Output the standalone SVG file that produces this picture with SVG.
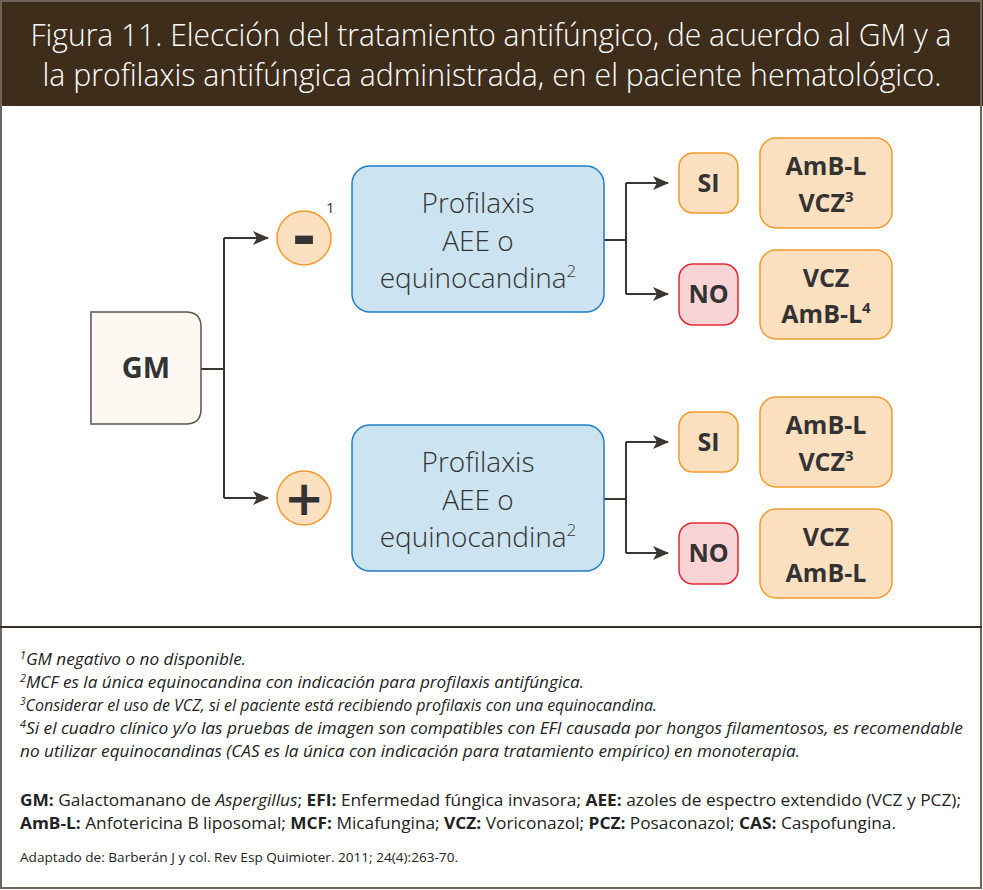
<svg xmlns="http://www.w3.org/2000/svg" width="983" height="890" viewBox="0 0 983 890">
<defs>
<marker id="arr" markerWidth="16" markerHeight="14" refX="15" refY="7" orient="auto" markerUnits="userSpaceOnUse">
<path d="M0,0 L16,7 L0,14 L4,7 Z" fill="#3d3530"/>
</marker>
</defs>
<style>
.title{font-family:"Open Sans",sans-serif;font-weight:300;font-size:31px;fill:#ffffff}
.conn{fill:none;stroke:#3d3530;stroke-width:2}
.gm{fill:#fdf8f2;stroke:#5e544c;stroke-width:1.5}
.prof{fill:#cce3f1;stroke:#1f7dc2;stroke-width:1.5}
.or{fill:#fde0c0;stroke:#f4992c;stroke-width:1.5}
.no{fill:#f9d3d5;stroke:#e02a36;stroke-width:1.5}
.bt{font-family:"Open Sans",sans-serif;font-weight:700;fill:#333333;text-anchor:middle}
.lt{font-family:"Open Sans",sans-serif;font-weight:300;font-size:28px;fill:#333333;text-anchor:middle}
.fn{font-family:"Open Sans",sans-serif;font-style:italic;font-size:16px;fill:#222222}
.gl{font-family:"Open Sans",sans-serif;font-size:16px;fill:#222222}
.gl .b{font-weight:700}
.src{font-family:"Open Sans",sans-serif;font-size:12px;fill:#222222}
</style>
<rect x="0" y="0" width="983" height="890" fill="#ffffff"/>
<rect x="0" y="0" width="983" height="106" fill="#3f2d1b"/>
<rect x="1" y="1" width="980" height="887" fill="none" stroke="#6e6259" stroke-width="2"/>
<line x1="0" y1="627" x2="982" y2="627" stroke="#3a2e25" stroke-width="2"/>
<text class="title" x="491" y="46" text-anchor="middle" textLength="921" lengthAdjust="spacingAndGlyphs">Figura 11. Elección del tratamiento antifúngico, de acuerdo al GM y a</text>
<text class="title" x="492" y="86" text-anchor="middle" textLength="899" lengthAdjust="spacingAndGlyphs">la profilaxis antifúngica administrada, en el paciente hematológico.</text>

<g id="connectors">
<path class="conn" d="M201,369 H224 M224,238 V498"/>
<path class="conn" d="M224,238 H268" marker-end="url(#arr)"/>
<path class="conn" d="M224,498 H268" marker-end="url(#arr)"/>
<path class="conn" d="M604,240 H626 M626,183 V294"/>
<path class="conn" d="M626,183 H668" marker-end="url(#arr)"/>
<path class="conn" d="M626,294 H668" marker-end="url(#arr)"/>
<path class="conn" d="M604,499 H626 M626,442 V553"/>
<path class="conn" d="M626,442 H668" marker-end="url(#arr)"/>
<path class="conn" d="M626,553 H668" marker-end="url(#arr)"/>
</g>

<g id="gm">
<path class="gm" d="M91,312 H186 Q201,312 201,327 V409 Q201,424 186,424 H91 Z"/>
<text class="bt" x="146" y="378" font-size="29">GM</text>
</g>

<g id="neg">
<circle class="or" cx="304" cy="238" r="27"/>
<text class="bt" x="304" y="257" font-size="58" style="font-family:'DejaVu Sans',sans-serif">-</text>
<text x="326" y="213" font-family="Open Sans, sans-serif" font-size="15" fill="#333333">1</text>
</g>

<g id="pos">
<circle class="or" cx="304" cy="498" r="27"/>
<text class="bt" x="304" y="515" font-size="48" style="font-family:'DejaVu Sans',sans-serif">+</text>
</g>

<g id="prof1">
<rect class="prof" x="352" y="166" width="252" height="146" rx="18"/>
<text class="lt" x="478" y="213">Profilaxis</text>
<text class="lt" x="478" y="251">AEE o</text>
<text class="lt" x="478" y="288">equinocandina<tspan font-size="17" dy="-11">2</tspan></text>
</g>

<g id="si1">
<rect class="or" x="679" y="153" width="59" height="60" rx="14"/>
<text class="bt" x="708.5" y="192" font-size="25">SI</text>
</g>
<g id="no1">
<rect class="no" x="679" y="264" width="59" height="61" rx="14"/>
<text class="bt" x="708.5" y="303" font-size="25">NO</text>
</g>
<g id="res1">
<rect class="or" x="760" y="138" width="132" height="90" rx="16"/>
<text class="bt" x="826" y="175" font-size="25">AmB-L</text>
<text class="bt" x="826" y="212" font-size="25">VCZ<tspan font-size="15" dy="-10">3</tspan></text>
</g>
<g id="res2">
<rect class="or" x="760" y="250" width="132" height="89" rx="16"/>
<text class="bt" x="826" y="287" font-size="25">VCZ</text>
<text class="bt" x="826" y="323" font-size="25">AmB-L<tspan font-size="15" dy="-10">4</tspan></text>
</g>

<g id="prof2">
<rect class="prof" x="352" y="425" width="252" height="146" rx="18"/>
<text class="lt" x="478" y="472">Profilaxis</text>
<text class="lt" x="478" y="510">AEE o</text>
<text class="lt" x="478" y="547">equinocandina<tspan font-size="17" dy="-11">2</tspan></text>
</g>
<g id="si2">
<rect class="or" x="679" y="412" width="59" height="60" rx="14"/>
<text class="bt" x="708.5" y="451" font-size="25">SI</text>
</g>
<g id="no2">
<rect class="no" x="679" y="523" width="59" height="61" rx="14"/>
<text class="bt" x="708.5" y="562" font-size="25">NO</text>
</g>
<g id="res3">
<rect class="or" x="760" y="397" width="132" height="90" rx="16"/>
<text class="bt" x="826" y="434" font-size="25">AmB-L</text>
<text class="bt" x="826" y="471" font-size="25">VCZ<tspan font-size="15" dy="-10">3</tspan></text>
</g>
<g id="res4">
<rect class="or" x="760" y="509" width="132" height="89" rx="16"/>
<text class="bt" x="826" y="546" font-size="25">VCZ</text>
<text class="bt" x="826" y="582" font-size="25">AmB-L</text>
</g>

<g id="notes">
<text class="fn" x="20" y="665" textLength="226" lengthAdjust="spacingAndGlyphs"><tspan font-size="10" dy="-6">1</tspan><tspan dy="6">GM negativo o no disponible.</tspan></text>
<text class="fn" x="20" y="688" textLength="564" lengthAdjust="spacingAndGlyphs"><tspan font-size="10" dy="-6">2</tspan><tspan dy="6">MCF es la única equinocandina con indicación para profilaxis antifúngica.</tspan></text>
<text class="fn" x="20" y="711" textLength="637" lengthAdjust="spacingAndGlyphs"><tspan font-size="10" dy="-6">3</tspan><tspan dy="6">Considerar el uso de VCZ, si el paciente está recibiendo profilaxis con una equinocandina.</tspan></text>
<text class="fn" x="20" y="734" textLength="943" lengthAdjust="spacingAndGlyphs"><tspan font-size="10" dy="-6">4</tspan><tspan dy="6">Si el cuadro clínico y/o las pruebas de imagen son compatibles con EFI causada por hongos filamentosos, es recomendable</tspan></text>
<text class="fn" x="20" y="757" textLength="780" lengthAdjust="spacingAndGlyphs">no utilizar equinocandinas (CAS es la única con indicación para tratamiento empírico) en monoterapia.</text>
<text class="gl" x="20" y="806" textLength="941" lengthAdjust="spacingAndGlyphs"><tspan class="b">GM:</tspan> Galactomanano de <tspan font-style="italic">Aspergillus</tspan>; <tspan class="b">EFI:</tspan> Enfermedad fúngica invasora; <tspan class="b">AEE:</tspan> azoles de espectro extendido (VCZ y PCZ);</text>
<text class="gl" x="20" y="829" textLength="876" lengthAdjust="spacingAndGlyphs"><tspan class="b">AmB-L:</tspan> Anfotericina B liposomal; <tspan class="b">MCF:</tspan> Micafungina; <tspan class="b">VCZ:</tspan> Voriconazol; <tspan class="b">PCZ:</tspan> Posaconazol; <tspan class="b">CAS:</tspan> Caspofungina.</text>
<text class="src" x="20" y="862" textLength="438" lengthAdjust="spacingAndGlyphs">Adaptado de: Barberán J y col. Rev Esp Quimioter. 2011; 24(4):263-70.</text>
</g>
</svg>
